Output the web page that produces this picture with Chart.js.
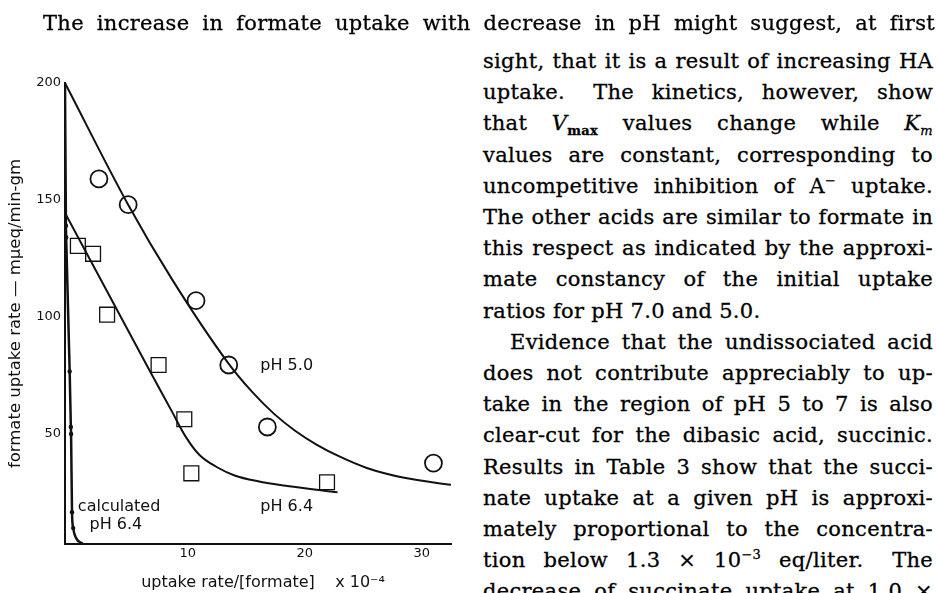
<!DOCTYPE html>
<html lang="en">
<head>
<meta charset="UTF-8">
<title>Formate uptake vs uptake rate/[formate]</title>
<script src="https://cdn.jsdelivr.net/npm/chart.js"></script>
<style>
  html, body { margin: 0; padding: 0; background: #fff; width: 936px; height: 593px; overflow: hidden; }
  #chartBox { position: absolute; left: 0; top: 0; width: 470px; height: 593px; }
  .ln { position: absolute; white-space: nowrap; font-family: "DejaVu Serif", serif; font-size: 21px; line-height: 21px;
        letter-spacing: 0.3px; color: #000; -webkit-text-stroke: 0.3px #000; }
  .ln sub, .ln sup { font-size: 13px; line-height: 0; }
</style>
</head>
<body>
<div id="chartBox"><canvas id="uptakeChart" width="470" height="593"></canvas></div>

<script>
// measured points, pH 5.0 (circles)
var ph5X = [2.4, 4.9, 10.7, 13.5, 16.8, 31.0];
var ph5Y = [159, 148, 107, 79.5, 53, 37.6];

// measured points, pH 6.4 (squares)
var ph64X = [0.6, 1.9, 3.1, 7.5, 9.7, 10.3, 21.9];
var ph64Y = [130.4, 127, 101, 79.5, 56.3, 33.2, 29.4];

// drawn curve through pH 5.0
var fit5X = [-0.5, 4.9, 8.6, 13.5, 15.5, 17.4, 19.2, 21.0, 23.0, 25.3, 28.5, 32.5];
var fit5Y = [200, 148, 116.5, 80, 68, 58.5, 51.3, 45.5, 40.3, 35.5, 31.3, 28.3];

// drawn curve through pH 6.4
var fit64X = [-0.5, 6.8, 8.6, 9.8, 11.0, 12.5, 14.0, 16.0, 18.5, 22.8];
var fit64Y = [144.5, 76.5, 60, 49, 41, 35.8, 32.3, 29.8, 27.8, 25.1];

// calculated curve for pH 6.4 (dots = calculated points)
var calcX = [-0.5, -0.42, -0.4, -0.1, 0.0, 0.02, 0.1, 0.2, 0.45, 1.0];
var calcY = [200, 139, 134, 76.7, 53, 50, 16.6, 9.8, 5.5, 3.2];
var calcDot = [0, 1, 1, 1, 1, 1, 1, 1, 0, 0];

var xTicks = [10, 20, 30];
var yTicks = [50, 100, 150, 200];

// curve labels
var noteText = ['pH 5.0', 'pH 6.4', 'calculated', 'pH 6.4'];
var noteX = [16.2, 16.2, 0.6, 1.6];
var noteY = [79, 19, 19, 11.3];

function pts(xs, ys) {
    return xs.map(function (x, i) { return { x: x, y: ys[i] }; });
}

var ink = '#111';

var notesPlugin = {
    id: 'notes',
    afterDatasetsDraw: function (chart) {
        var c = chart.ctx;
        c.save();
        c.fillStyle = ink;
        c.font = '16px "DejaVu Sans"';
        c.textAlign = 'left';
        c.textBaseline = 'middle';
        noteText.forEach(function (t, i) {
            c.fillText(t, chart.scales.x.getPixelForValue(noteX[i]), chart.scales.y.getPixelForValue(noteY[i]));
        });
        c.restore();
    }
};

var ctx = document.getElementById('uptakeChart').getContext('2d');
var uptakeChart = new Chart(ctx, {
    type: 'scatter',
    data: {
        datasets: [
            { label: 'pH 5.0 curve', data: pts(fit5X, fit5Y), showLine: true, pointRadius: 0,
              borderColor: ink, borderWidth: 2, tension: 0.4, cubicInterpolationMode: 'monotone' },
            { label: 'pH 6.4 curve', data: pts(fit64X, fit64Y), showLine: true, pointRadius: 0,
              borderColor: ink, borderWidth: 2, tension: 0.4, cubicInterpolationMode: 'monotone' },
            { label: 'calculated pH 6.4', data: pts(calcX, calcY), showLine: true,
              pointRadius: calcDot.map(function (d) { return d ? 2.2 : 0; }),
              pointBackgroundColor: ink, pointBorderWidth: 0,
              borderColor: ink, borderWidth: 2.5, tension: 0.4, cubicInterpolationMode: 'monotone' },
            { label: 'pH 5.0', data: pts(ph5X, ph5Y), pointStyle: 'circle', pointRadius: 8.5,
              pointBorderWidth: 1.8, pointBorderColor: ink, pointBackgroundColor: 'rgba(0,0,0,0)' },
            { label: 'pH 6.4', data: pts(ph64X, ph64Y), pointStyle: 'rect', pointRadius: 10.5,
              pointBorderWidth: 1.3, pointBorderColor: ink, pointBackgroundColor: 'rgba(0,0,0,0)' }
        ]
    },
    options: {
        responsive: false,
        animation: false,
        devicePixelRatio: 1,
        layout: { padding: { top: 83, right: 19, bottom: 0, left: 0 } },
        plugins: { legend: { display: false }, tooltip: { enabled: false } },
        scales: {
            x: {
                type: 'linear', min: -0.5, max: 32.5,
                grid: { display: false, drawTicks: false },
                border: { display: true, color: ink, width: 2 },
                ticks: { color: ink, padding: 2, font: { family: 'DejaVu Sans', size: 13 } },
                afterBuildTicks: function (s) { s.ticks = xTicks.map(function (v) { return { value: v }; }); },
                afterFit: function (s) { s.height = 49; },
                title: { display: true, text: '  uptake rate/[formate]    x 10⁻⁴', color: ink,
                         font: { family: 'DejaVu Sans', size: 16 }, padding: { top: 0, bottom: 1 } }
            },
            y: {
                type: 'linear', min: 3, max: 200,
                grid: { display: false, drawTicks: false },
                border: { display: true, color: ink, width: 2 },
                ticks: { color: ink, padding: 4, font: { family: 'DejaVu Sans', size: 13 } },
                afterBuildTicks: function (s) { s.ticks = yTicks.map(function (v) { return { value: v }; }); },
                afterFit: function (s) { s.width = 65; },
                title: { display: true, text: 'formate uptake rate — mμeq/min-gm', color: ink,
                         font: { family: 'DejaVu Sans', size: 16.5 }, padding: { top: 6, bottom: 0 } }
            }
        }
    },
    plugins: [notesPlugin]
});

// running text beside the figure, one entry per printed line
var textLines = [
    'The increase in formate uptake with decrease in pH might suggest, at first',
    'sight, that it is a result of increasing HA',
    'uptake.&ensp; The kinetics, however, show',
    'that <i>V</i><sub><b>max</b></sub> values change while <i>K<sub>m</sub></i>',
    'values are constant, corresponding to',
    'uncompetitive inhibition of A<sup>−</sup> uptake.',
    'The other acids are similar to formate in',
    'this respect as indicated by the approxi-',
    'mate constancy of the initial uptake',
    'ratios for pH 7.0 and 5.0.',
    'Evidence that the undissociated acid',
    'does not contribute appreciably to up-',
    'take in the region of pH 5 to 7 is also',
    'clear-cut for the dibasic acid, succinic.',
    'Results in Table 3 show that the succi-',
    'nate uptake at a given pH is approxi-',
    'mately proportional to the concentra-',
    'tion below 1.3 × 10<sup>−3</sup> eq/liter.&ensp; The',
    'decrease of succinate uptake at 1.0 ×'
];

textLines.forEach(function (html, i) {
    var d = document.createElement('div');
    d.className = 'ln';
    d.innerHTML = html;
    var left = 483, width = 450;
    if (i === 0) { left = 43; width = 892; }
    if (i === 10) { left = 510; width = 423; }
    var mid = i === 0 ? 25 : 63 + (i - 1) * 31.2;
    d.style.left = left + 'px';
    d.style.top = (mid - 12) + 'px';
    document.body.appendChild(d);
    if (i === 9) return; // paragraph end, not justified
    var w = d.getBoundingClientRect().width;
    var gaps = (d.textContent.match(/ /g) || []).length;
    var extra = width - w;
    if (extra >= 0 && gaps) {
        d.style.wordSpacing = (extra / gaps) + 'px';
    } else if (extra < 0) {
        d.style.transformOrigin = '0 0';
        d.style.transform = 'scaleX(' + (width / w) + ')';
    }
});
</script>
</body>
</html>
